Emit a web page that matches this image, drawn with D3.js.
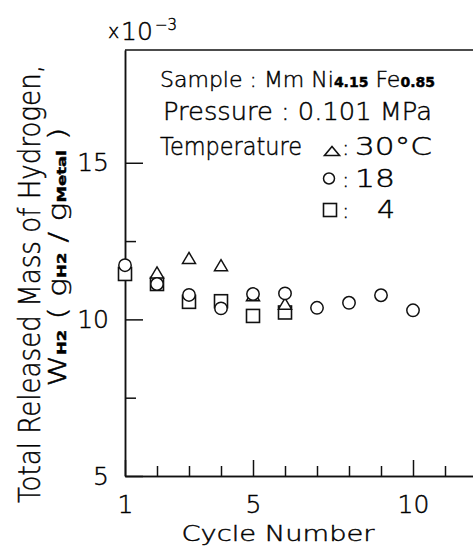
<!DOCTYPE html>
<meta charset="utf-8">
<style>
    body { margin: 0; background: #fff; }
    svg text { font-family: "DejaVu Sans", sans-serif; font-weight: 200; fill: #000; stroke: #000; stroke-width: 0.45; }
    .axis path, .axis line { stroke: #111; stroke-width: 1.5; }
</style>
<body>
<script src="https://d3js.org/d3.v7.min.js"></script>
<script>

    // cycle numbers and released mass (x10^-3 g/g)
    var cyc30 = [2, 3, 4, 5, 6];
    var val30 = [11.50, 11.96, 11.73, 10.77, 10.50];

    var cyc18 = [1, 2, 3, 4, 5, 6, 7, 8, 9, 10];
    var val18 = [11.73, 11.13, 10.78, 10.35, 10.81, 10.83, 10.37, 10.53, 10.77, 10.29];

    var cyc4 = [1, 2, 3, 4, 5, 6];
    var val4 = [11.45, 11.13, 10.56, 10.58, 10.11, 10.22];

    var xMajor = [1, 5, 10];
    var xMinor = [2, 3, 4, 6, 7, 8, 9, 11];
    var yMajor = [5, 10, 15];
    var yMinor = [7.5, 12.5];

    var width = 473, height = 546;

    var svg = d3.select("body").append("svg")
        .attr("width", width)
        .attr("height", height);

    // scales
    var x = d3.scaleLinear().domain([1, 12]).range([125, 477]);
    var y = d3.scaleLinear().domain([5, 18.6]).range([476, 50]);

    // top frame line
    svg.append("line")
        .attr("x1", x(1)).attr("x2", x(12))
        .attr("y1", y(18.6)).attr("y2", y(18.6))
        .attr("stroke", "#111").attr("stroke-width", 1.5);

    // x axis: minor then major ticks pointing up
    svg.append("g").attr("class", "axis")
        .attr("transform", "translate(0," + y(5) + ")")
        .call(d3.axisBottom(x).tickValues(xMinor).tickSize(-10).tickSizeOuter(0).tickFormat(""));
    var xa = svg.append("g").attr("class", "axis")
        .attr("transform", "translate(0," + y(5) + ")")
        .call(d3.axisBottom(x).tickValues(xMajor).tickSize(-16).tickSizeOuter(0).tickPadding(19));
    xa.selectAll("text").style("font-size", "25px").attr("fill", "#000");

    // y axis: ticks pointing right
    svg.append("g").attr("class", "axis")
        .attr("transform", "translate(" + x(1) + ",0)")
        .call(d3.axisLeft(y).tickValues(yMinor).tickSize(-11).tickSizeOuter(0).tickFormat(""));
    var ya = svg.append("g").attr("class", "axis")
        .attr("transform", "translate(" + x(1) + ",0)")
        .call(d3.axisLeft(y).tickValues(yMajor).tickSize(-18).tickSizeOuter(0).tickPadding(16));
    ya.selectAll("text").style("font-size", "25px").attr("fill", "#000");
    svg.selectAll(".axis .domain").attr("stroke-width", 1.8);

    // x 10^-3
    svg.append("text").attr("x", 108).attr("y", 38).style("font-size", "19px").text("x");
    svg.append("text").attr("x", 121).attr("y", 40).style("font-size", "25px").text("10");
    svg.append("text").attr("x", 155).attr("y", 30).style("font-size", "15px").text("−3");

    // axis titles
    svg.append("text")
        .attr("x", 278).attr("y", 541)
        .attr("text-anchor", "middle")
        .attr("textLength", 193).attr("lengthAdjust", "spacingAndGlyphs")
        .style("font-size", "22px")
        .text("Cycle  Number");

    svg.append("text")
        .attr("transform", "translate(40,284) rotate(-90)")
        .attr("text-anchor", "middle")
        .attr("textLength", 438).attr("lengthAdjust", "spacingAndGlyphs")
        .style("font-size", "30px")
        .text("Total Released Mass of Hydrogen,");

    var t2 = svg.append("text")
        .attr("transform", "translate(66,257) rotate(-90)")
        .attr("text-anchor", "middle")
        .attr("textLength", 259).attr("lengthAdjust", "spacingAndGlyphs")
        .style("font-size", "25px");
    t2.append("tspan").text("W");
    t2.append("tspan").style("font-size", "13px").style("font-weight", "bold").text("H2");
    t2.append("tspan").text("  ( g");
    t2.append("tspan").style("font-size", "13px").style("font-weight", "bold").text("H2");
    t2.append("tspan").text(" / g");
    t2.append("tspan").style("font-size", "13px").style("font-weight", "bold").text("Metal");
    t2.append("tspan").text(" )");

    // legend text
    var l1 = svg.append("text").attr("x", 160).attr("y", 87)
        .style("font-size", "22px");
    l1.append("tspan").text("Sample : Mm Ni");
    l1.append("tspan").style("font-size", "14px").style("font-weight", "bold").text("4.15");
    l1.append("tspan").text(" Fe");
    l1.append("tspan").style("font-size", "14px").style("font-weight", "bold").text("0.85");

    svg.append("text").attr("x", 163).attr("y", 120)
        .attr("textLength", 269).attr("lengthAdjust", "spacingAndGlyphs")
        .style("font-size", "25px").text("Pressure : 0.101  MPa");

    svg.append("text").attr("x", 160).attr("y", 155)
        .attr("textLength", 142).attr("lengthAdjust", "spacingAndGlyphs")
        .style("font-size", "25px").text("Temperature");

    var legRows = [
        { sym: "tri", y: 155, lab: "30°C", lx: 355, len: 77 },
        { sym: "circ", y: 187, lab: "18", lx: 355, len: 40 },
        { sym: "sq", y: 218, lab: "4", lx: 377, len: 18 }
    ];
    legRows.forEach(function (r) {
        svg.append("text").attr("x", 342).attr("y", r.y).style("font-size", "22px").text(":");
        svg.append("text").attr("x", r.lx).attr("y", r.y)
            .attr("textLength", r.len).attr("lengthAdjust", "spacingAndGlyphs")
            .style("font-size", "25px").text(r.lab);
    });

    function triPath(cx, cy, w, h) {
        return "M" + cx + "," + (cy - h / 2) + "L" + (cx + w / 2) + "," + (cy + h / 2) +
            "L" + (cx - w / 2) + "," + (cy + h / 2) + "Z";
    }

    // legend symbols
    svg.append("path").attr("d", triPath(332, 151, 15, 9))
        .attr("fill", "#fff").attr("stroke", "#111").attr("stroke-width", 1.6);
    svg.append("circle").attr("cx", 329).attr("cy", 178.5).attr("r", 5.5)
        .attr("fill", "#fff").attr("stroke", "#111").attr("stroke-width", 1.5);
    svg.append("rect").attr("x", 323.5).attr("y", 203.5).attr("width", 13).attr("height", 13)
        .attr("fill", "#fff").attr("stroke", "#111").attr("stroke-width", 1.6);

    // data marks: squares, triangles, then circles on top
    svg.selectAll(".sq")
        .data(d3.zip(cyc4, val4))
        .enter().append("rect")
        .attr("class", "sq")
        .attr("x", function (d) { return x(d[0]) - 6.5; })
        .attr("y", function (d) { return y(d[1]) - 6.5; })
        .attr("width", 13).attr("height", 13)
        .attr("fill", "#fff").attr("stroke", "#111").attr("stroke-width", 1.6);

    svg.selectAll(".tri")
        .data(d3.zip(cyc30, val30))
        .enter().append("path")
        .attr("class", "tri")
        .attr("d", function (d) { return triPath(x(d[0]), y(d[1]), 13, 11); })
        .attr("fill", "#fff").attr("stroke", "#111").attr("stroke-width", 1.5);

    svg.selectAll(".circ")
        .data(d3.zip(cyc18, val18))
        .enter().append("circle")
        .attr("class", "circ")
        .attr("cx", function (d) { return x(d[0]); })
        .attr("cy", function (d) { return y(d[1]); })
        .attr("r", 6.2)
        .attr("fill", "#fff").attr("stroke", "#111").attr("stroke-width", 1.5);

</script>
</body>
